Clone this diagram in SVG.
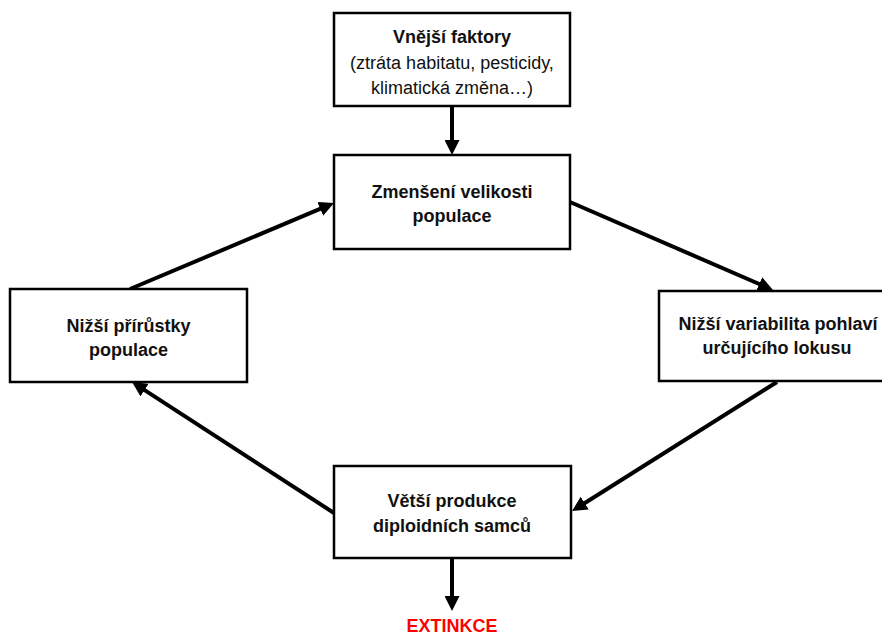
<svg xmlns="http://www.w3.org/2000/svg" width="882" height="637" viewBox="0 0 882 637">
<style>
.box{fill:#fff;stroke:#000;stroke-width:2.5}
.t{font-family:"Liberation Sans",Arial,sans-serif;font-size:18px;fill:#111;text-anchor:middle}
.b{font-weight:bold}
.c{stroke:#000;stroke-width:4;fill:none;marker-end:url(#ah)}
.red{font-family:"Liberation Sans",Arial,sans-serif;font-size:18px;font-weight:bold;fill:#ff0000;text-anchor:middle}
</style>
<defs>
<marker id="ah" markerUnits="userSpaceOnUse" markerWidth="15" markerHeight="15" refX="5" refY="7.5" orient="auto">
<path d="M0,0 L15,7.5 L0,15 z" fill="#000"/>
</marker>
</defs>
<rect width="882" height="637" fill="#fff"/>
<g id="connectors">
<line class="c" x1="452" y1="106" x2="452" y2="145"/>
<line class="c" x1="130" y1="289" x2="324.8" y2="206.9"/>
<line class="c" x1="570" y1="202" x2="763.8" y2="286"/>
<line class="c" x1="777" y1="382" x2="580.5" y2="505.7"/>
<line class="c" x1="334" y1="513" x2="140.4" y2="387.4"/>
<line class="c" x1="452" y1="558" x2="452" y2="601"/>
</g>
<g id="vnejsi">
<rect class="box" x="334" y="13" width="236" height="93"/>
<text class="t b" x="452" y="43">Vnější faktory</text>
<text class="t" x="452" y="69">(ztráta habitatu, pesticidy,</text>
<text class="t" x="452" y="94">klimatická změna…)</text>
</g>
<g id="zmenseni">
<rect class="box" x="334" y="155" width="236" height="94"/>
<text class="t b" x="452" y="198">Zmenšení velikosti</text>
<text class="t b" x="452" y="222">populace</text>
</g>
<g id="prirustky">
<rect class="box" x="10" y="289" width="237" height="93"/>
<text class="t b" x="128.5" y="332">Nižší přírůstky</text>
<text class="t b" x="128.5" y="356">populace</text>
</g>
<g id="variabilita">
<rect class="box" x="659" y="291" width="240" height="90"/>
<text class="t b" x="778" y="330">Nižší variabilita pohlaví</text>
<text class="t b" x="777" y="354">určujícího lokusu</text>
</g>
<g id="produkce">
<rect class="box" x="334" y="466" width="237" height="92"/>
<text class="t b" x="452" y="507">Větší produkce</text>
<text class="t b" x="452" y="532">diploidních samců</text>
</g>
<g id="extinkce">
<text class="red" x="452" y="632">EXTINKCE</text>
</g>
</svg>
